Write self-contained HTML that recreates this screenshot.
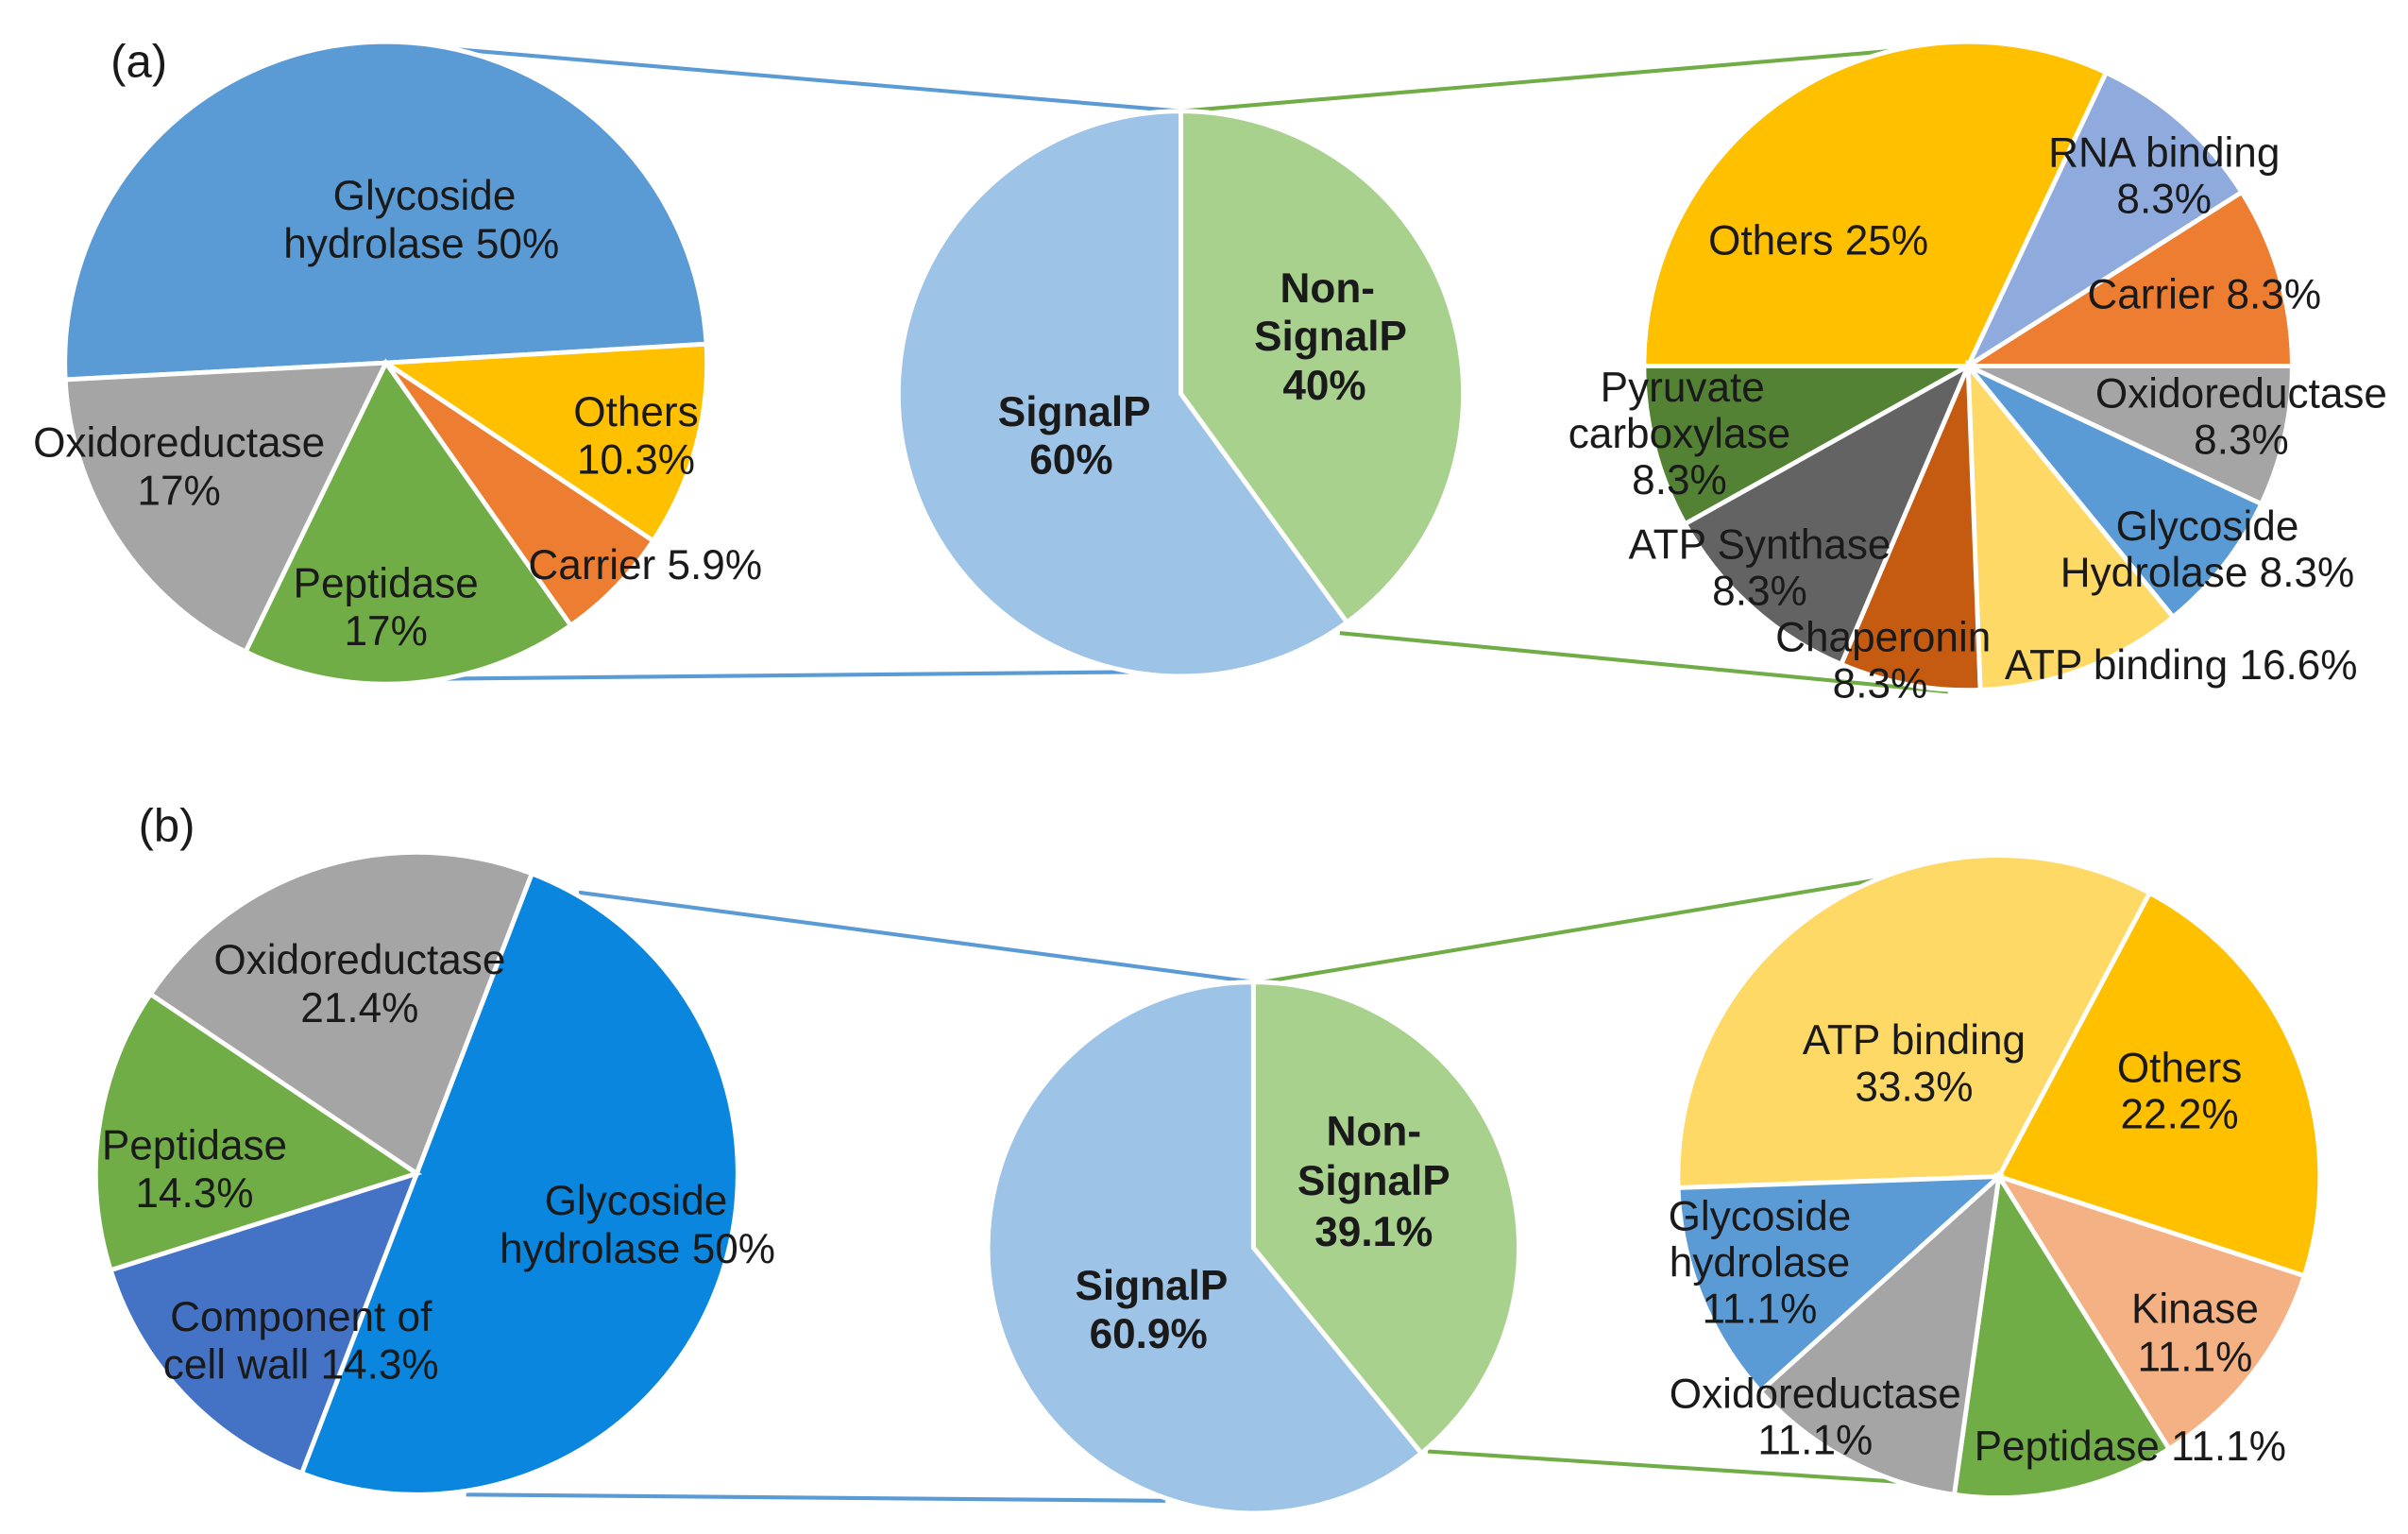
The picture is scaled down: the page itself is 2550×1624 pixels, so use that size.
<!DOCTYPE html>
<html><head><meta charset="utf-8"><style>
html,body{margin:0;padding:0;background:#fff;}
svg{display:block;}
text{font-family:"Liberation Sans",Arial,sans-serif;fill:#1a1a1a;text-anchor:middle;}
</style></head><body>
<svg id="chart" width="2550" height="1624" viewBox="0 0 1560 993.5" xmlns="http://www.w3.org/2000/svg">
<g id="lines"></g>
<g id="pies"></g>
<g id="labels"></g>
</svg>
<script>
// ---- Data (slice shares, clockwise) ----
const aLeftCats = ["Glycoside hydrolase","Others","Carrier","Peptidase","Oxidoreductase"];
const aLeftVals = [50,10.3,5.9,17,17];
const aMidCats = ["Non-SignalP","SignalP"];
const aMidVals = [40,60];
const aRightCats = ["Others","RNA binding","Carrier","Oxidoreductase","Glycoside Hydrolase","ATP binding","Chaperonin","ATP Synthase","Pyruvate carboxylase"];
const aRightVals = [32,9,9,7,7.1,10.3,7,10.5,8.1];
const bLeftCats = ["Glycoside hydrolase","Component of cell wall","Peptidase","Oxidoreductase"];
const bLeftVals = [50,14.3,14.3,21.4];
const bMidCats = ["Non-SignalP","SignalP"];
const bMidVals = [39.1,60.9];
const bRightCats = ["ATP binding","Others","Kinase","Peptidase","Oxidoreductase","Glycoside hydrolase"];
const bRightVals = [33.3,22.2,11.1,11.1,11.1,11.1];

const NS="http://www.w3.org/2000/svg";
const pies=document.getElementById('pies'), lines=document.getElementById('lines'), labels=document.getElementById('labels');
function pt(cx,cy,r,deg){const a=deg*Math.PI/180;return [cx+r*Math.sin(a),cy-r*Math.cos(a)];}
function drawPie(name,cx,cy,r,start,cats,vals,colors){
  const tot=vals.reduce((s,v)=>s+v,0);let ang=start;
  vals.forEach((v,i)=>{
    const sweep=v/tot*360;const p1=pt(cx,cy,r,ang),p2=pt(cx,cy,r,ang+sweep);
    const path=document.createElementNS(NS,'path');
    path.setAttribute('d',`M${cx},${cy} L${p1[0]},${p1[1]} A${r},${r} 0 ${sweep>180?1:0} 1 ${p2[0]},${p2[1]} Z`);
    path.setAttribute('fill',colors[i]);path.setAttribute('stroke','#fff');path.setAttribute('stroke-width','3');
    
    
    pies.appendChild(path);ang+=sweep;
  });
}
function line(name,x1,y1,x2,y2,c){
  const l=document.createElementNS(NS,'line');
  l.setAttribute('x1',x1);l.setAttribute('y1',y1);l.setAttribute('x2',x2);l.setAttribute('y2',y2);
  l.setAttribute('stroke',c);l.setAttribute('stroke-width','2.5');
  
  
  lines.appendChild(l);
}
function label(name,x,y,t,size,bold){
  const e=document.createElementNS(NS,'text');
  e.setAttribute('x',x);e.setAttribute('y',y);e.setAttribute('font-size',size||25);
  e.setAttribute('dominant-baseline','central');
  if(bold)e.setAttribute('font-weight','bold');
  e.textContent=t;
  
  
  labels.appendChild(e);
}
const B='#5B9BD5',G='#70AD47';
line('a-connector-top-blue',238,27,765,72,B);
line('a-connector-bottom-blue',248,440,755,435,B);
line('a-connector-top-green',765,72,1260,30,G);
line('a-connector-bottom-green',868,410,1262,448,G);
line('b-connector-top-blue',375,578,812,636,B);
line('b-connector-bottom-blue',302,968,755,972,B);
line('b-connector-top-green',818,636,1215,570,G);
line('b-connector-bottom-green',925,940,1235,960,G);

drawPie('a-left',250,235,208,-93,aLeftCats,aLeftVals,['#5B9BD5','#FFC000','#ED7D31','#70AD47','#A5A5A5']);
drawPie('a-mid',765,255,183,0,aMidCats,aMidVals,['#A9D18E','#9DC3E6']);
drawPie('a-right',1275,237,210,-90,aRightCats,aRightVals,['#FFC000','#8FAADC','#ED7D31','#A5A5A5','#5B9BD5','#FFD966','#C55A11','#636363','#548235']);
drawPie('b-left',270,760,208,21,bLeftCats,bLeftVals,['#0A86DE','#4472C4','#70AD47','#A5A5A5']);
drawPie('b-mid',812,808,172,0,bMidCats,bMidVals,['#A9D18E','#9DC3E6']);
drawPie('b-right',1295,762,208,-92,bRightCats,bRightVals,['#FFD966','#FFC000','#F4B183','#70AD47','#A5A5A5','#5B9BD5']);

label('panel-a-label',90,40,'(a)',30);
label('panel-b-label',108,535,'(b)',30);
const L=[
['a-glycoside',275,127,'Glycoside'],['a-glycoside',273,158,'hydrolase  50%'],
['a-others',412,267,'Others'],['a-others',412,298,'10.3%'],
['a-oxido',116,287,'Oxidoreductase'],['a-oxido',116,318,'17%'],
['a-peptidase',250,378,'Peptidase'],['a-peptidase',250,409,'17%'],
['a-carrier',418,366,'Carrier 5.9%'],
['ar-others',1178,156,'Others 25%'],['ar-rna',1402,99,'RNA binding'],['ar-rna',1402,129,'8.3%'],
['ar-carrier',1428,191,'Carrier 8.3%'],['ar-oxido',1452,255,'Oxidoreductase'],['ar-oxido',1452,285,'8.3%'],
['ar-pyruvate',1090,251,'Pyruvate'],['ar-pyruvate',1088,281,'carboxylase'],['ar-pyruvate',1088,311,'8.3%'],
['ar-glycoside',1430,341,'Glycoside'],['ar-glycoside',1430,371,'Hydrolase 8.3%'],
['ar-atp-synthase',1140,353,'ATP Synthase'],['ar-atp-synthase',1140,383,'8.3%'],
['ar-chaperonin',1220,413,'Chaperonin'],['ar-chaperonin',1218,443,'8.3%'],
['ar-atp-binding',1413,431,'ATP binding 16.6%'],
['b-oxido',233,622,'Oxidoreductase'],['b-oxido',233,653,'21.4%'],
['b-peptidase',126,742,'Peptidase'],['b-peptidase',126,773,'14.3%'],
['b-glycoside',412,778,'Glycoside'],['b-glycoside',413,809,'hydrolase  50%'],
['b-component',195,853,'Component of'],['b-component',195,884,'cell wall 14.3%'],
['br-atp',1240,674,'ATP binding'],['br-atp',1240,704,'33.3%'],
['br-others',1412,692,'Others'],['br-others',1412,722,'22.2%'],
['br-glycoside',1140,788,'Glycoside'],['br-glycoside',1140,818,'hydrolase'],['br-glycoside',1140,848,'11.1%'],
['br-kinase',1422,848,'Kinase'],['br-kinase',1422,879,'11.1%'],
['br-oxido',1176,903,'Oxidoreductase'],['br-oxido',1176,933,'11.1%'],
['br-peptidase',1380,937,'Peptidase 11.1%']];
L.forEach(l=>label(l[0]+'-label',l[1],l[2],l[3],27));
const BL=[['a-mid-signalp',696,267,'SignalP'],['a-mid-signalp',694,298,'60%'],
['a-mid-non',860,187,'Non-'],['a-mid-non',862,218,'SignalP'],['a-mid-non',858,250,'40%'],
['b-mid-non',890,733,'Non-'],['b-mid-non',890,765,'SignalP'],['b-mid-non',890,798,'39.1%'],
['b-mid-signalp',746,833,'SignalP'],['b-mid-signalp',744,864,'60.9%']];
BL.forEach(l=>label(l[0]+'-label',l[1],l[2],l[3],27,true));
</script>
</body></html>
